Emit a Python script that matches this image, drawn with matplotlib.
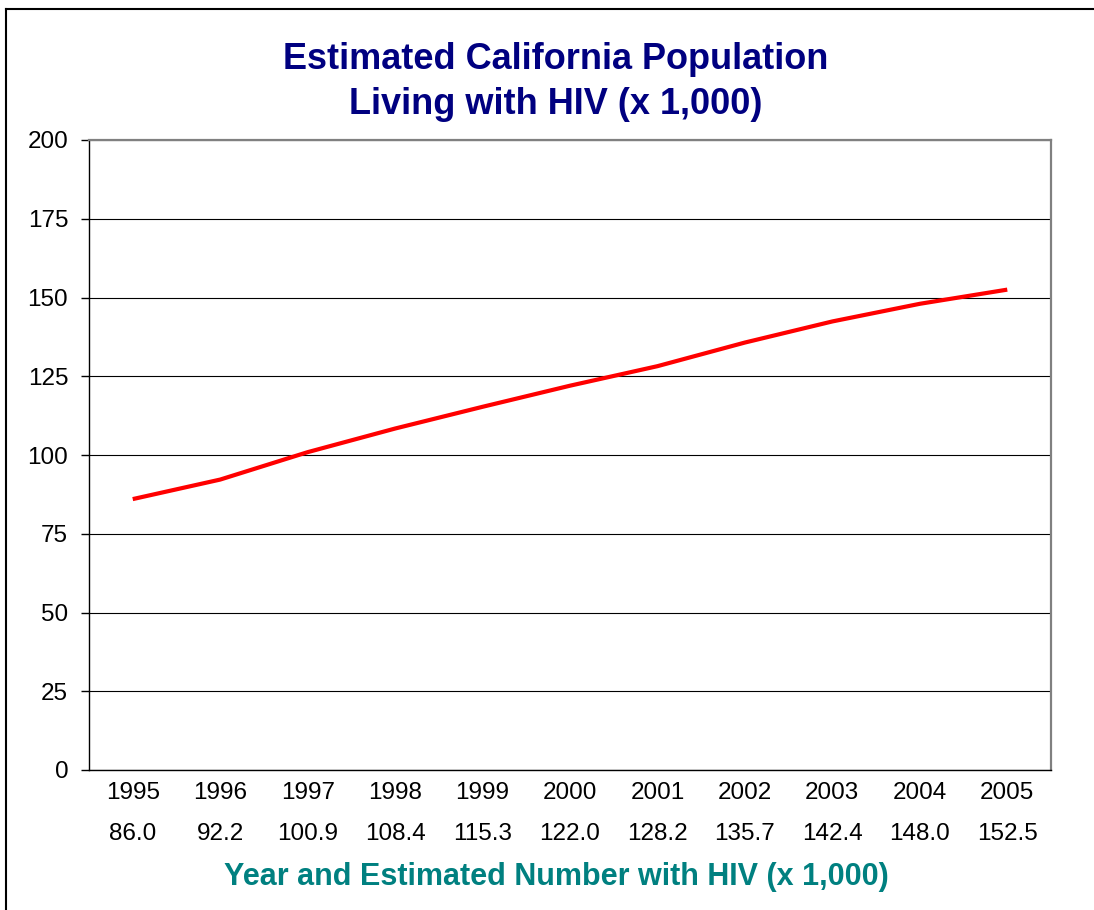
import matplotlib.pyplot as plt
from matplotlib.lines import Line2D
from matplotlib.transforms import blended_transform_factory

# data
years = ['1995', '1996', '1997', '1998', '1999', '2000', '2001', '2002', '2003', '2004', '2005']
hiv_thousands = [86.0, 92.2, 100.9, 108.4, 115.3, 122.0, 128.2, 135.7, 142.4, 148.0, 152.5]
y_ticks = [0, 25, 50, 75, 100, 125, 150, 175, 200]

plt.rcParams['font.family'] = ['Liberation Sans', 'DejaVu Sans']

fig = plt.figure(figsize=(10.94, 9.10), dpi=100)
ax = fig.add_axes([89 / 1094, 1 - 770 / 910, (1051 - 89) / 1094, (770 - 140) / 910])

x = list(range(len(years)))
ax.plot(x, hiv_thousands, color='#ff0000', linewidth=3, solid_capstyle='butt', zorder=3)

ax.set_xlim(-0.5, len(years) - 0.5)
ax.set_ylim(0, 200)
ax.set_yticks(y_ticks)
ax.set_xticks(x)
ax.set_xticklabels(years)
ax.tick_params(axis='y', length=6, width=1, pad=9, labelsize=17.5)
ax.tick_params(axis='x', length=0, pad=8.5, labelsize=17.5)
ax.grid(axis='y', color='#000000', linewidth=0.8)
ax.set_axisbelow(True)

for side in ['top', 'right']:
    ax.spines[side].set_color('#808080')
    ax.spines[side].set_linewidth(1.6)
for side in ['left', 'bottom']:
    ax.spines[side].set_color('#000000')
    ax.spines[side].set_linewidth(1)

# second row of labels: the values
trans = blended_transform_factory(ax.transData, ax.transAxes)
for i, v in enumerate(hiv_thousands):
    ax.text(i, -0.1016, '%.1f' % v, transform=trans, ha='center', va='center', fontsize=17.5)

fig.text(556 / 1094, 1 - 82 / 910, 'Estimated California Population\nLiving with HIV (x 1,000)',
         ha='center', va='center', fontsize=26, fontweight='bold', color='#000080', linespacing=1.4)
fig.text(556 / 1094, 1 - 877 / 910, 'Year and Estimated Number with HIV (x 1,000)',
         ha='center', va='center', fontsize=22, fontweight='bold', color='#008080')

# outer frame (top and left edges only visible)
fig.add_artist(Line2D([6 / 1094, 6 / 1094], [0, 1 - 9 / 910], transform=fig.transFigure, color='black', linewidth=1.5))
fig.add_artist(Line2D([6 / 1094, 1], [1 - 9 / 910, 1 - 9 / 910], transform=fig.transFigure, color='black', linewidth=1.5))

fig.savefig('out.png', dpi=100)
